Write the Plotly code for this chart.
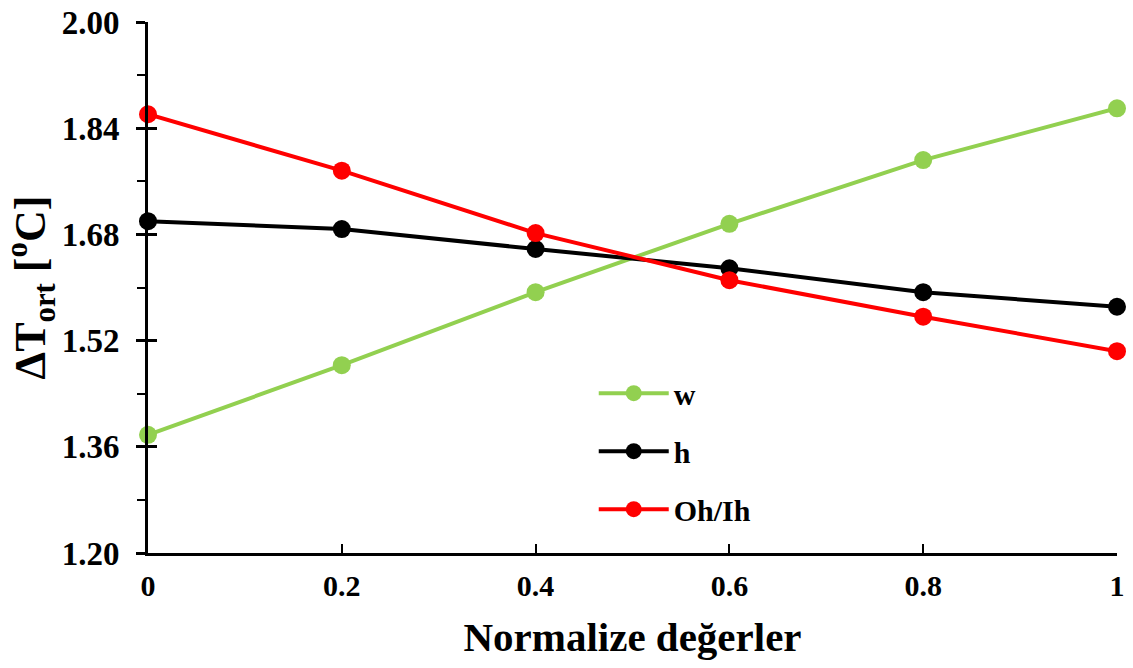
import plotly.graph_objects as go

# Normalised parameter values and mean temperature difference for each parameter
x_vals = [0, 0.2, 0.4, 0.6, 0.8, 1]
w_vals = [1.378, 1.483, 1.593, 1.696, 1.792, 1.870]
h_vals = [1.700, 1.688, 1.658, 1.629, 1.593, 1.571]
ohih_vals = [1.861, 1.776, 1.682, 1.611, 1.556, 1.504]

series_names = ["w", "h", "Oh/Ih"]
series_colors = ["#92D050", "#000000", "#FF0000"]
y_tick_vals = [1.20, 1.36, 1.52, 1.68, 1.84, 2.00]
x_tick_vals = [0, 0.2, 0.4, 0.6, 0.8, 1]
x_tick_text = ["0", "0.2", "0.4", "0.6", "0.8", "1"]

FONT = "Liberation Serif"

fig = go.Figure()
for name, ys, color in zip(series_names, [w_vals, h_vals, ohih_vals], series_colors):
    fig.add_trace(go.Scatter(
        x=x_vals, y=ys, name=name, mode="lines+markers",
        line=dict(color=color, width=4),
        marker=dict(color=color, size=18),
        legendgroup=name, cliponaxis=False,
    ))

# invisible overlay axis giving the inner half of the crossing major ticks
fig.add_trace(go.Scatter(x=[0], y=[1.2], yaxis="y2", mode="markers",
                         marker=dict(opacity=0), showlegend=False, hoverinfo="skip"))

fig.update_layout(
    width=1133, height=668,
    margin=dict(l=148, r=16, t=22, b=115),
    paper_bgcolor="white", plot_bgcolor="white",
    font=dict(family=FONT, color="black"),
    xaxis=dict(
        range=[0, 1], tickvals=x_tick_vals, automargin=False,
        ticktext=[f"<b>{t}</b>" for t in x_tick_text],
        ticks="inside", ticklen=9, tickwidth=2, tickcolor="black",
        showline=True, linecolor="black", linewidth=3,
        showgrid=False, zeroline=False,
        tickfont=dict(family=FONT, size=30, color="black"),
        ticklabelstandoff=4,
        title=dict(text="<b>Normalize değerler</b>",
                   font=dict(family=FONT, size=41, color="black"), standoff=22),
    ),
    yaxis=dict(
        range=[1.2, 2.0], tickvals=y_tick_vals, automargin=False,
        ticktext=[f"<b>{v:.2f}</b>" for v in y_tick_vals],
        ticks="outside", ticklen=9, tickwidth=3, tickcolor="black",
        minor=dict(dtick=0.08, tick0=1.2, ticks="outside", ticklen=8,
                   tickwidth=2, tickcolor="black", showgrid=False),
        showline=True, linecolor="black", linewidth=3,
        showgrid=False, zeroline=False,
        tickfont=dict(family=FONT, size=33, color="black"),
        ticklabelstandoff=10,
        title=dict(text="<b>ΔT<sub>ort</sub> [<sup>o</sup>C]</b>",
                   font=dict(family=FONT, size=44, color="black"), standoff=6),
    ),
    yaxis2=dict(
        range=[1.2, 2.0], overlaying="y", side="left", tickvals=y_tick_vals,
        ticks="inside", ticklen=9, tickwidth=3, tickcolor="black",
        showticklabels=False, showline=False, showgrid=False, zeroline=False,
        automargin=False,
    ),
    legend=dict(
        x=0.46, y=0.35, xanchor="left", yanchor="top",
        bgcolor="rgba(0,0,0,0)", itemwidth=70, tracegroupgap=16,
        font=dict(family=FONT, size=30, color="black", weight="bold"),
    ),
    showlegend=True,
)

fig.write_html("out.html")
